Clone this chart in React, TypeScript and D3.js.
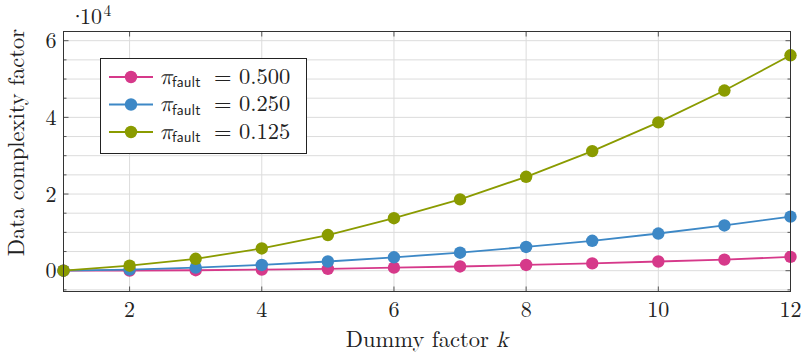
import React from "react";
import * as d3 from "d3";

const ks = [1, 2, 3, 4, 5, 6, 7, 8, 9, 10, 11, 12];
const series500 = [0, 0.005, 0.012, 0.03, 0.05, 0.08, 0.11, 0.15, 0.19, 0.24, 0.29, 0.36];
const series250 = [0, 0.03, 0.08, 0.15, 0.24, 0.35, 0.47, 0.62, 0.78, 0.97, 1.18, 1.41];
const series125 = [0, 0.13, 0.31, 0.58, 0.93, 1.37, 1.86, 2.45, 3.12, 3.87, 4.7, 5.62];
const labels = ["0.500", "0.250", "0.125"];
const colors = ["#d6398a", "#3d88c6", "#8a9b00"];
const xTicks = [2, 4, 6, 8, 10, 12];
const yTicks = [0, 2, 4, 6];
const yMinor = d3.range(-0.5, 6.01, 0.5);

const W = 804, H = 357;
const L = 63.5, R = 790.5, T = 31.5, B = 291.5;

const rm = { fontFamily: "Latin Modern Roman, Liberation Serif, serif" };
const mathF = { fontFamily: "Latin Modern Math, Latin Modern Roman, serif" };
const sf = { fontFamily: "Latin Modern Sans, DejaVu Sans, sans-serif" };

export default function App() {
  const x = d3.scaleLinear().domain([1, 12]).range([L, R]);
  const y = d3.scaleLinear().domain([0, 6]).range([270.7, 40.7]);
  const line = d3.line<number>().x((_, i) => x(ks[i])).y((d) => y(d));
  const all = [series500, series250, series125];
  const axisCol = "#333";
  const fs = 22.5;
  const tfs = 22;
  return (
    <svg width={W} height={H} style={{ position: "absolute", left: 0, top: 0 }}>
      <rect x={0} y={0} width={W} height={H} fill="#fff" />
      {yMinor.map((v) => (
        <line key={"gy" + v} x1={L} x2={R} y1={y(v)} y2={y(v)} stroke="#dcdcdc" strokeWidth={1} />
      ))}
      {xTicks.map((v) => (
        <line key={"gx" + v} x1={x(v)} x2={x(v)} y1={T} y2={B} stroke="#dcdcdc" strokeWidth={1} />
      ))}
      {yMinor.map((v) => {
        const major = yTicks.includes(v);
        const len = major ? 5 : 3;
        return (
          <g key={"ty" + v}>
            <line x1={L} x2={L + len} y1={y(v)} y2={y(v)} stroke={axisCol} strokeWidth={0.8} />
            <line x1={R} x2={R - len} y1={y(v)} y2={y(v)} stroke={axisCol} strokeWidth={0.8} />
          </g>
        );
      })}
      {xTicks.map((v) => (
        <g key={"tx" + v}>
          <line x1={x(v)} x2={x(v)} y1={B} y2={B - 5} stroke={axisCol} strokeWidth={0.8} />
          <line x1={x(v)} x2={x(v)} y1={T} y2={T + 5} stroke={axisCol} strokeWidth={0.8} />
        </g>
      ))}
      {all.map((s, si) => (
        <g key={"s" + si}>
          <path d={line(s) || ""} fill="none" stroke={colors[si]} strokeWidth={1.8} />
          {s.map((v, i) => (
            <circle key={i} cx={x(ks[i])} cy={y(v)} r={6.2} fill={colors[si]} />
          ))}
        </g>
      ))}
      <rect x={L} y={T} width={R - L} height={B - T} fill="none" stroke={axisCol} strokeWidth={1} />
      {xTicks.map((v) => (
        <text key={"lx" + v} x={x(v)} y={316.5} style={rm} fontSize={tfs} textAnchor="middle" fill="#222">
          {v}
        </text>
      ))}
      {yTicks.map((v) => (
        <text key={"ly" + v} x={L - 7} y={y(v) + 7.5} style={rm} fontSize={tfs} textAnchor="end" fill="#222">
          {v}
        </text>
      ))}
      <text x={69} y={24} style={rm} fontSize={tfs} fill="#222">·</text>
      <text x={80} y={24} style={rm} fontSize={tfs} fill="#222">10</text>
      <text x={103.5} y={15.5} style={rm} fontSize={15.5} fill="#222">4</text>
      <text x={(L + R) / 2} y={347} style={rm} fontSize={fs} textAnchor="middle" fill="#222">
        Dummy factor <tspan style={mathF} fontStyle="italic">k</tspan>
      </text>
      <text transform={`translate(24, ${(T + B) / 2 - 19}) rotate(-90)`} style={rm} fontSize={fs} textAnchor="middle" fill="#222">
        Data complexity factor
      </text>
      <rect x={100.5} y={58.5} width={206} height={95} fill="#fff" stroke="#222" strokeWidth={1} />
      {labels.map((lab, i) => {
        const ly = 77 + i * 27.5;
        return (
          <g key={"lg" + i}>
            <line x1={109} x2={153} y1={ly} y2={ly} stroke={colors[i]} strokeWidth={1.8} />
            <circle cx={131} cy={ly} r={6.2} fill={colors[i]} />
            <text x={159.5} y={ly + 6.5} style={mathF} fontStyle="italic" fontSize={fs} fill="#222">π</text>
            <text x={172} y={ly + 10} style={sf} fontSize={15} fill="#222">fault</text>
            <text x={214} y={ly + 6.5} style={rm} fontSize={fs} fill="#222">=</text>
            <text x={239} y={ly + 6.5} style={rm} fontSize={fs} fill="#222">{lab}</text>
          </g>
        );
      })}
    </svg>
  );
}
